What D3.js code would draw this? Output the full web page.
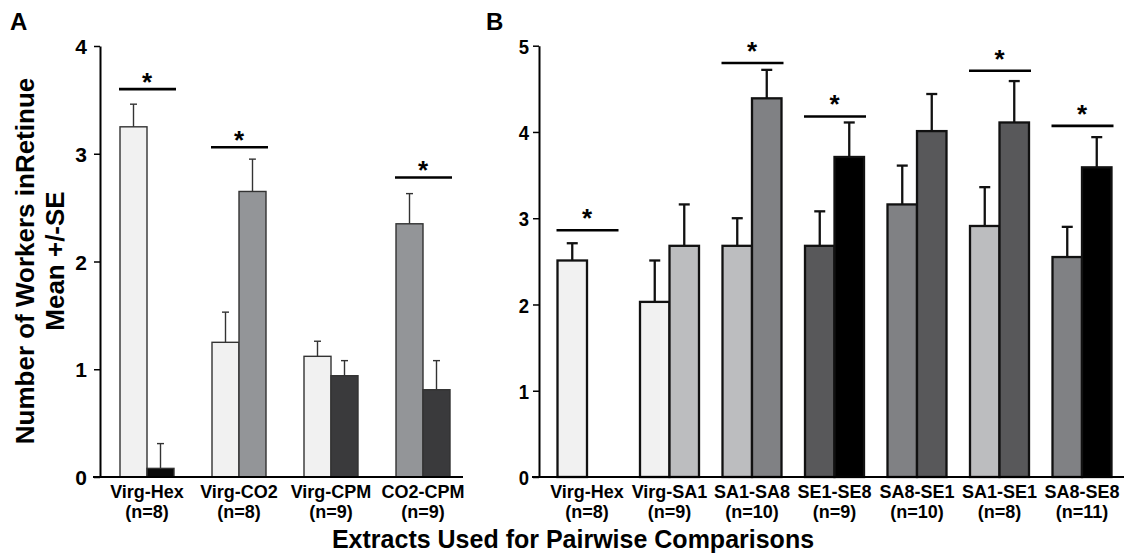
<!DOCTYPE html>
<html>
<head>
<meta charset="utf-8">
<script src="https://cdn.jsdelivr.net/npm/d3@7"></script>
<style>
  body { margin: 0; background: #fff; }
  text { font-family: "Liberation Sans", Arial, sans-serif; font-weight: bold; fill: #000; }
</style>
</head>
<body>
<script>
// ---- panel A data ----
const catsA = ["Virg-Hex", "Virg-CO2", "Virg-CPM", "CO2-CPM"];
const nA = ["(n=8)", "(n=8)", "(n=9)", "(n=9)"];
const leftA = ["Virg", "Virg", "Virg", "CO2"];
const rightA = ["Hex", "CO2", "CPM", "CPM"];
const meanLeftA = [3.25, 1.25, 1.12, 2.35];
const seLeftA = [0.21, 0.28, 0.14, 0.28];
const meanRightA = [0.08, 2.65, 0.94, 0.81];
const seRightA = [0.23, 0.30, 0.14, 0.27];
const sigA = [3.60, 3.06, null, 2.78];
const ticksA = [0, 1, 2, 3, 4];

// ---- panel B data ----
const catsB = ["Virg-Hex", "Virg-SA1", "SA1-SA8", "SE1-SE8", "SA8-SE1", "SA1-SE1", "SA8-SE8"];
const nB = ["(n=8)", "(n=9)", "(n=10)", "(n=9)", "(n=10)", "(n=8)", "(n=11)"];
const leftB = ["Virg", "Virg", "SA1", "SE1", "SA8", "SA1", "SA8"];
const rightB = ["Hex", "SA1", "SA8", "SE8", "SE1", "SE1", "SE8"];
const meanLeftB = [2.51, 2.03, 2.68, 2.68, 3.16, 2.91, 2.55];
const seLeftB = [0.20, 0.48, 0.32, 0.40, 0.45, 0.45, 0.35];
const meanRightB = [null, 2.68, 4.39, 3.71, 4.01, 4.11, 3.59];
const seRightB = [null, 0.48, 0.33, 0.40, 0.43, 0.48, 0.35];
const sigB = [2.86, null, 4.80, 4.18, null, 4.71, 4.07];
const ticksB = [0, 1, 2, 3, 4, 5];

const colorA = d3.scaleOrdinal()
  .domain(["Virg", "Hex", "CO2", "CPM"])
  .range(["#f1f1f1", "#0a0a0a", "#939598", "#3a3a3c"]);
const colorB = d3.scaleOrdinal()
  .domain(["Virg", "Hex", "SA1", "SA8", "SE1", "SE8"])
  .range(["#f1f1f1", "#0a0a0a", "#bcbdbf", "#808184", "#58585a", "#000000"]);

const svg = d3.select("body").append("svg")
  .attr("width", 1124)
  .attr("height", 554);

function panel(opt) {
  const g = svg.append("g");
  const sx = opt.squeeze; // horizontal squeeze for the tick digits
  const y = d3.scaleLinear().domain([0, opt.max]).range([477, opt.top]);
  const x0 = d3.scaleBand().domain(opt.cats).range(opt.xRange).padding(0);
  const step = x0.bandwidth();
  const x1 = d3.scaleBand().domain([0, 1])
    .range([step / 2 - opt.barW, step / 2 + opt.barW]).padding(0);

  const rows = opt.cats.map(function (c, i) {
    return [
      { c: c, side: 0, v: opt.meanL[i], se: opt.seL[i], k: opt.left[i] },
      { c: c, side: 1, v: opt.meanR[i], se: opt.seR[i], k: opt.right[i] }
    ];
  });
  const bars = rows.flat().filter(function (d) { return d.v != null; });

  // y axis
  g.append("g")
    .attr("transform", "translate(" + opt.axisX + ",0)")
    .call(d3.axisLeft(y).tickValues(opt.ticks).tickFormat(d3.format("d"))
      .tickSize(6).tickSizeOuter(0).tickPadding(opt.tickPad))
    .call(function (a) {
      a.select(".domain").attr("stroke", "#000").attr("stroke-width", 2);
      a.selectAll(".tick line").attr("stroke", "#000").attr("stroke-width", 1.5);
      a.selectAll(".tick text")
        .attr("font-size", opt.tickFont)
        .attr("font-family", null)
        .attr("dy", "0.36em")
        .attr("x", -(6 + opt.tickPad) / sx)
        .attr("transform", "scale(" + sx + ",1)");
    });

  // bars
  g.selectAll("rect.bar").data(bars).enter().append("rect")
    .attr("class", "bar")
    .attr("x", function (d) { return x0(d.c) + x1(d.side); })
    .attr("width", x1.bandwidth())
    .attr("y", function (d) { return y(d.v); })
    .attr("height", function (d) { return y(0) - y(d.v); })
    .attr("fill", function (d) { return opt.color(d.k); })
    .attr("stroke", opt.stroke)
    .attr("stroke-width", opt.sw);

  // error bars (upper only)
  function cx(d) { return x0(d.c) + x1(d.side) + x1.bandwidth() / 2; }
  const eb = g.selectAll("g.err").data(bars).enter().append("g").attr("class", "err");
  eb.append("line")
    .attr("x1", cx).attr("x2", cx)
    .attr("y1", function (d) { return y(d.v); })
    .attr("y2", function (d) { return y(d.v + d.se); })
    .attr("stroke", opt.stroke).attr("stroke-width", opt.sw);
  eb.append("line")
    .attr("x1", function (d) { return cx(d) - opt.cap; })
    .attr("x2", function (d) { return cx(d) + opt.cap; })
    .attr("y1", function (d) { return y(d.v + d.se); })
    .attr("y2", function (d) { return y(d.v + d.se); })
    .attr("stroke", opt.stroke).attr("stroke-width", opt.sw);

  // x axis line
  g.append("line")
    .attr("x1", opt.axisX - 7).attr("x2", opt.xEnd)
    .attr("y1", y(0)).attr("y2", y(0))
    .attr("stroke", "#000").attr("stroke-width", 2);

  // category labels, two lines each
  [[opt.cats, 498], [opt.n, 518]].forEach(function (pair) {
    g.selectAll(null).data(pair[0]).enter().append("text")
      .attr("text-anchor", "middle")
      .attr("font-size", 18)
      .attr("x", function (d, i) { return x0(opt.cats[i]) + step / 2; })
      .attr("y", pair[1])
      .text(function (d) { return d; });
  });

  // significance lines
  const sig = opt.cats.map(function (c, i) { return { c: c, v: opt.sig[i] }; })
    .filter(function (d) { return d.v != null; });
  g.selectAll("line.sig").data(sig).enter().append("line")
    .attr("class", "sig")
    .attr("x1", function (d) { return x0(d.c) + x1(0) - 1; })
    .attr("x2", function (d) { return x0(d.c) + x1(1) + x1.bandwidth() + 2; })
    .attr("y1", function (d) { return y(d.v); })
    .attr("y2", function (d) { return y(d.v); })
    .attr("stroke", "#000").attr("stroke-width", 2.6);
  g.selectAll("text.star").data(sig).enter().append("text")
    .attr("class", "star")
    .attr("x", function (d) { return x0(d.c) + step / 2; })
    .attr("y", function (d) { return y(d.v) + opt.starDy; })
    .attr("text-anchor", "middle")
    .attr("font-size", 26)
    .text("*");
}

panel({
  cats: catsA, n: nA, left: leftA, right: rightA,
  meanL: meanLeftA, seL: seLeftA, meanR: meanRightA, seR: seRightA,
  sig: sigA, ticks: ticksA, max: 4, top: 46,
  xRange: [101, 469], xEnd: 463, barW: 27, axisX: 100, color: colorA,
  stroke: "#333", sw: 1.4, cap: 3.5, tickFont: 21, tickPad: 7, squeeze: 1, starDy: 2
});

panel({
  cats: catsB, n: nB, left: leftB, right: rightB,
  meanL: meanLeftB, seL: seLeftB, meanR: meanRightB, seR: seRightB,
  sig: sigB, ticks: ticksB, max: 5, top: 45.7,
  xRange: [545.75, 1123.25], xEnd: 1124, barW: 29.5, axisX: 539, color: colorB,
  stroke: "#111", sw: 2.3, cap: 5.5, tickFont: 21, tickPad: 4, squeeze: 0.88, starDy: -3
});

// panel letters
svg.append("text").attr("x", 10).attr("y", 30).attr("font-size", 24).text("A");
svg.append("text").attr("x", 486).attr("y", 30).attr("font-size", 24).text("B");

// axis titles
svg.append("text")
  .attr("transform", "translate(34,261) rotate(-90)")
  .attr("text-anchor", "middle")
  .attr("font-size", 26)
  .text("Number of Workers inRetinue");
svg.append("text")
  .attr("transform", "translate(64,261) rotate(-90)")
  .attr("text-anchor", "middle")
  .attr("font-size", 26)
  .text("Mean +/-SE");
svg.append("text")
  .attr("x", 573).attr("y", 548)
  .attr("text-anchor", "middle")
  .attr("font-size", 25)
  .text("Extracts Used for Pairwise Comparisons");
</script>
</body>
</html>
